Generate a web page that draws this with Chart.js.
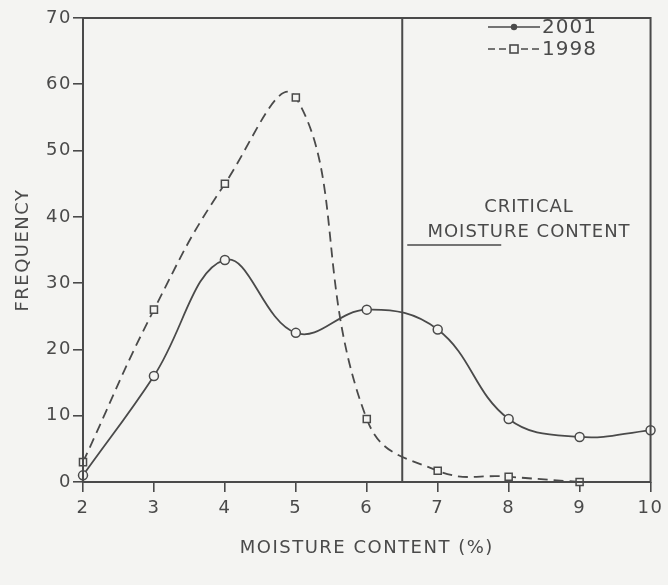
<!DOCTYPE html>
<html>
<head>
<meta charset="utf-8">
<script src="https://cdn.jsdelivr.net/npm/chart.js@4"></script>
<style>
html,body{margin:0;padding:0;background:#f4f4f2;}
#wrap{width:668px;height:585px;}
</style>
</head>
<body>
<div id="wrap"><canvas id="c" width="668" height="585"></canvas></div>
<script>
// ---- data ----
const moisture = [2, 3, 4, 5, 6, 7, 8, 9, 10];
const freq2001 = [1, 16, 33.5, 22.5, 26, 23, 9.5, 6.8, 7.8];
const freq1998 = [3, 26, 45, 58, 9.5, 1.7, 0.8, 0, null];
const yTicks = [0, 10, 20, 30, 40, 50, 60, 70];
const criticalMoisture = 6.5;
const criticalLabel = ["CRITICAL", "MOISTURE CONTENT"];
const seriesNames = ["2001", "1998"];

const INK = '#4a4a4a';
const BG = '#f4f4f2';
const FONT = '"DejaVu Sans", "Liberation Sans", sans-serif';

function pts(ys){ return moisture.map((x,i)=>({x:x,y:ys[i]})).filter(p=>p.y!==null); }

const boxPlugin = {
  id:'box',
  beforeDraw(chart){
    const c = chart.ctx;
    c.fillStyle = BG; c.fillRect(0,0,chart.width,chart.height);
    c.letterSpacing = '1.5px';
  },
  afterDatasetsDraw(chart){
    const c = chart.ctx, a = chart.chartArea, xs = chart.scales.x;
    c.save();
    c.strokeStyle = INK; c.lineWidth = 2;
    c.strokeRect(a.left, a.top, a.right-a.left, a.bottom-a.top);
    // critical line
    const cx = xs.getPixelForValue(criticalMoisture);
    c.beginPath(); c.moveTo(cx, a.top); c.lineTo(cx, a.bottom); c.stroke();
    // critical text
    c.fillStyle = INK;
    c.letterSpacing = '1px';
    c.font = '18px ' + FONT;
    c.textAlign = 'center'; c.textBaseline = 'middle';
    c.fillText(criticalLabel[0], 529, 207);
    c.fillText(criticalLabel[1], 529, 232);
    c.lineWidth = 1.6;
    c.beginPath(); c.moveTo(cx+5, 245); c.lineTo(cx+99, 245); c.stroke();
    // legend
    const lx0 = 488, lx1 = 540;
    const rows = [{y:27, dash:[], style:'dot', name:seriesNames[0]}, {y:49, dash:[7,4], style:'sq', name:seriesNames[1]}];
    rows.forEach(r=>{
      c.setLineDash(r.dash); c.lineWidth = 1.6;
      c.beginPath(); c.moveTo(lx0, r.y); c.lineTo(lx1, r.y); c.stroke();
      c.setLineDash([]);
      const mx = (lx0+lx1)/2;
      if (r.style==='dot'){ c.beginPath(); c.arc(mx, r.y, 3.2, 0, Math.PI*2); c.fill(); }
      else { c.fillStyle = BG; c.fillRect(mx-4, r.y-4, 8, 8); c.strokeRect(mx-4, r.y-4, 8, 8); c.fillStyle = INK; }
      c.letterSpacing = '1px';
      c.font = '20px ' + FONT; c.textAlign = 'left';
      c.fillText(r.name, lx1+2, r.y+1);
    });
    c.restore();
  }
};

new Chart(document.getElementById('c'), {
  type:'line',
  data:{
    datasets:[
      {label:seriesNames[0], data:pts(freq2001), borderColor:INK, borderWidth:1.8,
       tension:0.4, pointStyle:'circle', pointRadius:4.5, pointBorderWidth:1.5,
       pointBackgroundColor:BG, pointBorderColor:INK, clip:false},
      {label:seriesNames[1], data:pts(freq1998), borderColor:INK, borderWidth:1.8, borderDash:[10,6],
       tension:0.45, pointStyle:'rect', pointRadius:5, pointBorderWidth:1.5,
       pointBackgroundColor:BG, pointBorderColor:INK, clip:false}
    ]
  },
  options:{
    responsive:false, animation:false,
    layout:{padding:{left:0, top:18, right:15, bottom:0}},
    plugins:{legend:{display:false}, tooltip:{enabled:false}},
    scales:{
      x:{type:'linear', min:2, max:10,
        afterBuildTicks(s){ s.ticks = moisture.map(v=>({value:v})); },
        afterFit(s){ s.height = 103; },
        grid:{display:true, drawOnChartArea:false, drawTicks:true, tickLength:10, color:INK, lineWidth:1.6},
        border:{display:false},
        ticks:{color:INK, font:{family:FONT, size:18}, padding:6},
        title:{display:true, text:'MOISTURE CONTENT (%)', color:INK, font:{family:FONT, size:18}, padding:{top:0,bottom:26}}
      },
      y:{min:0, max:70,
        afterBuildTicks(s){ s.ticks = yTicks.map(v=>({value:v})); },
        afterFit(s){ s.width = 83; },
        grid:{display:true, drawOnChartArea:false, drawTicks:true, tickLength:10, color:INK, lineWidth:1.6},
        border:{display:false},
        ticks:{color:INK, font:{family:FONT, size:18}, padding:1},
        title:{display:true, text:'FREQUENCY', color:INK, font:{family:FONT, size:18}, padding:{top:13,bottom:0}}
      }
    }
  },
  plugins:[boxPlugin]
});
</script>
</body>
</html>
